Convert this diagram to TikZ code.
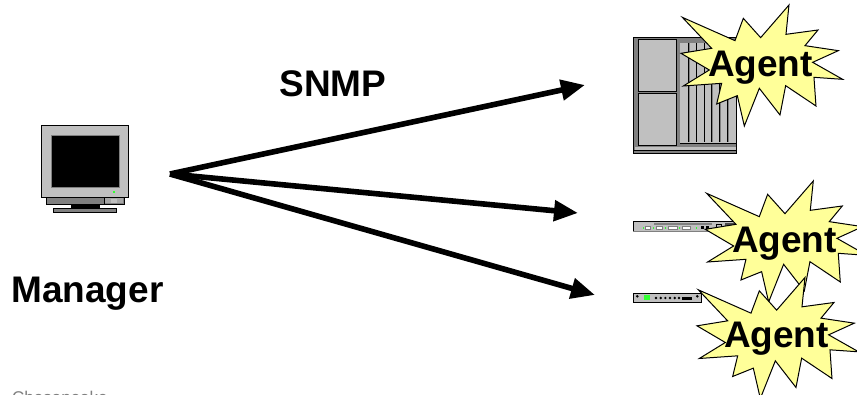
\documentclass[tikz,border=0pt]{standalone}
\usepackage{fontspec}
\setmainfont{Liberation Sans}
\usetikzlibrary{arrows.meta}
\definecolor{starfill}{HTML}{FFFF99}
\definecolor{gL}{HTML}{C0C0C0}
\definecolor{gD}{HTML}{808080}
\definecolor{ledg}{HTML}{33FF33}
\tikzset{
  lbl/.style={font=\bfseries\fontsize{37}{40}\selectfont,anchor=base,inner sep=0pt,text=black},
  snmparrow/.style={line width=5.6pt,-{Triangle[length=24pt,width=20pt]},black},
  agentstar/.pic={
    \filldraw[fill=starfill,draw=black,line width=1pt,line join=miter,x=0.3333pt,y=-0.3333pt]
      (187,52)--(345,122)--(370,55)--(422,113)--(507,15)--(498,103)--(594,90)--(555,137)
      --(655,152)--(578,187)--(668,238)--(582,232)--(588,318)--(497,257)--(480,345)
      --(418,265)--(373,378)--(352,287)--(290,312)--(305,250)--(190,258)--(268,210)
      --(183,160)--(275,145)--cycle;
  }
}
\begin{document}
\begin{tikzpicture}[x=1pt,y=-1pt]
\clip (0,0) rectangle (857,395);
\fill[white] (0,0) rectangle (857,395);

% Manager monitor
\fill[gD] (46.7,197) rectangle (124,204);
\draw[black,line width=0.7pt] (46.7,197) rectangle (124,204);
\fill[gL!60!gD] (104,198) rectangle (123,203.5);
\draw[black,line width=0.6pt] (104,197) -- (104,204);
\fill[gL] (111,199) rectangle (117,203);
\fill[black] (70.7,204) rectangle (100,208.7);
\filldraw[fill=gD,draw=black,line width=0.7pt] (53.7,208.7) rectangle (116.7,212.7);
\filldraw[fill=gL,draw=black,line width=0.9pt] (41.7,125.3) rectangle (128.7,197.3);
\filldraw[fill=black,draw=gD,line width=0.7pt] (51.7,135.3) rectangle (119,187.3);
\fill[ledg] (113.4,191.5) rectangle (115.2,193.2);

% Server
\fill[gD] (633.3,37.3) rectangle (736.7,153.3);
\draw[black,line width=0.7pt] (633.3,37.3) rectangle (736.7,153.3);
\filldraw[fill=gL,draw=black,line width=0.8pt] (638.3,39.3) rectangle (676,91.3);
\filldraw[fill=gL,draw=black,line width=0.8pt] (638.3,93.7) rectangle (676,145.7);
\fill[gL] (680,42.7) rectangle (736,143);
\foreach \x in {688.3,696,704,711.7,719.3,727.3}{
  \draw[gD,line width=1.2pt] (\x+0.8,42.7) -- (\x+0.8,142.5);
  \draw[black,line width=0.7pt] (\x,42.7) -- (\x,142.5);
}
\draw[black,line width=0.7pt] (680,143) -- (736.7,143);
\fill[gL] (634.5,147.5) rectangle (736,150);
\draw[black,line width=0.5pt] (634,150.5) -- (736.7,150.5);

% Router (middle)
\filldraw[fill=gL,draw=black,line width=0.7pt] (633.3,221) rectangle (735,231);
\fill[gD] (633.3,231) rectangle (735,232);
\fill[gD] (654,223.3) rectangle (712,224.7);
\foreach \a/\b in {645/650,656/662,668.3/677,681.7/690}{
  \filldraw[fill=white,draw=gD,line width=0.4pt] (\a,226.7) rectangle (\b,229.3);
}
\foreach \x in {642.5,653,665,679,696}{
  \fill[ledg] (\x,227.3) rectangle (\x+1.2,228.7);
}
\fill[black] (701,226.5) rectangle (703.5,229.5);
\fill[black] (706,226.5) rectangle (709,229.5);
\draw[black,line width=0.6pt] (716.7,224) rectangle (721,227.3);
\fill[black!70] (725,223.5) rectangle (735,227);

% Router (lower)
\filldraw[fill=gL,draw=black,line width=0.9pt] (633.3,293.5) rectangle (701,302.5);
\fill[ledg] (644,295) rectangle (650,300.3);
\foreach \x in {656,660.7,665.3,670,674.7,679}{
  \fill[black] (\x,298) circle (1.3);
}
\fill[black] (682,296.7) rectangle (692.3,300.3);
\fill[black] (637.3,296.3) circle (1.4);
\fill[black] (697.3,296.3) circle (1.4);

% Arrows
\coordinate (src) at (170,174);
\coordinate (tipA) at (585,85);
\coordinate (tipB) at (578,213);
\coordinate (tipC) at (595,295);
\draw[snmparrow] (src) -- (tipA);
\draw[snmparrow] (src) -- (tipB);
\draw[snmparrow] (src) -- (tipC);

% Stars
\pic (s1) at (620,0) {agentstar};
\pic (s2) at (644.3,176) {agentstar};
\pic (s3) at (636,272.5) {agentstar};

% Labels
\node[lbl] (snmp) at (333,96.5) {SNMP};
\node[lbl] (manager) at (87.5,302.5) {Manager};
\node[lbl] (ag1) at (760.5,77) {Agent};
\node[lbl] (ag2) at (784.5,253) {Agent};
\node[lbl] (ag3) at (776.5,348) {Agent};
\node[anchor=base west,inner sep=0pt,text=gD,font=\fontsize{17}{20}\selectfont] (foot) at (12,403) {Chesapeake};
\end{tikzpicture}
\end{document}
